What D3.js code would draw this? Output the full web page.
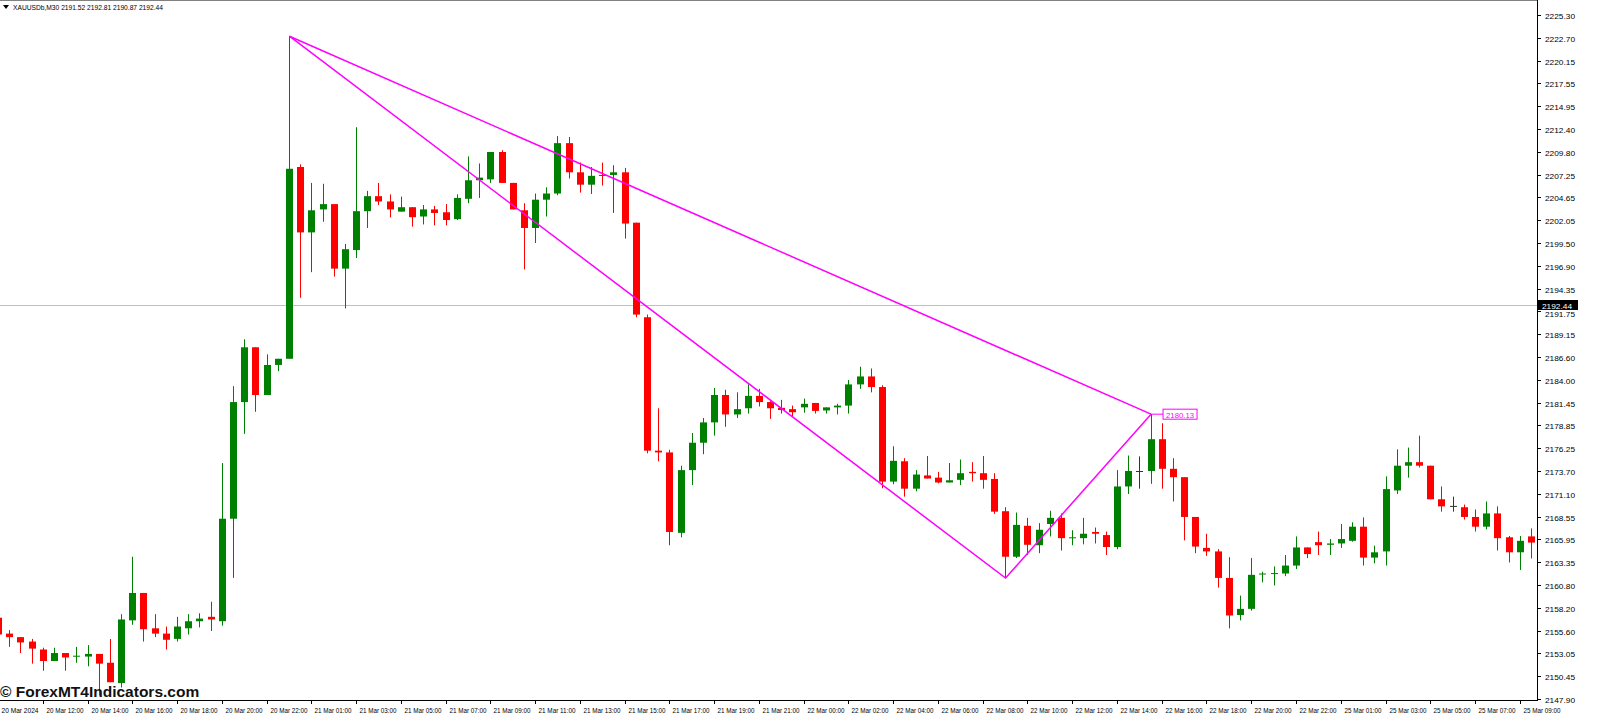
<!DOCTYPE html>
<html>
<head>
<meta charset="utf-8">
<script src="https://cdn.jsdelivr.net/npm/d3@7"></script>
<style>
  html, body { margin: 0; padding: 0; background: #fff; overflow: hidden; }
  svg { display: block; }
  text { font-family: "Liberation Sans", Arial, sans-serif; }
</style>
</head>
<body>
<svg id="chart"></svg>
<script>
// XAUUSDb M30 candles
const opens = [2157.1,2155.3,2154.9,2154.4,2153.5,2152.2,2153.1,2152.7,2152.7,2153.0,2152.0,2149.7,2156.8,2159.9,2155.9,2155.3,2154.7,2155.9,2156.7,2157.2,
  2156.7,2168.3,2181.5,2187.7,2182.3,2185.7,2186.4,2208.1,2200.7,2203.3,2203.9,2196.6,2198.7,2203.1,2204.8,2204.2,2203.05,2203.55,2202.5,2203.3,
  2202.98,2202.2,2204.5,2206.6,2206.7,2209.8,2206.3,2203.2,2201.2,2204.4,2205.1,2210.8,2207.5,2206.1,2207.2,2207.2,2207.5,2201.8,2191.1,2176.0,
  2175.8,2166.7,2173.8,2176.9,2179.2,2182.3,2180.1,2180.8,2182.2,2181.5,2180.85,2180.7,2180.9,2181.4,2180.55,2180.9,2181.1,2183.5,2184.4,2183.2,
  2172.5,2174.8,2171.7,2173.2,2172.95,2172.4,2172.7,2173.6,2173.45,2172.8,2169.15,2164.0,2167.5,2165.3,2167.7,2168.4,2166.1,2166.1,2166.8,2166.45,
  2165.1,2171.95,2173.7,2173.7,2177.3,2173.95,2173.0,2168.5,2165.0,2164.6,2161.6,2157.4,2158.1,2162.0,2162.05,2162.1,2163.0,2165.05,2165.65,2165.35,
  2165.5,2165.8,2167.4,2163.9,2164.6,2171.5,2174.3,2174.7,2174.3,2170.5,2169.75,2169.6,2168.5,2167.4,2168.9,2166.2,2164.5,2166.3];
const highs = [2157.6,2155.7,2154.9,2154.7,2153.7,2153.7,2153.1,2153.8,2154.0,2153.0,2154.7,2157.5,2164.0,2159.9,2157.5,2156.1,2157.2,2157.5,2157.6,2158.9,
  2174.6,2183.3,2188.6,2187.7,2186.9,2186.4,2222.9,2208.4,2206.3,2206.2,2203.9,2199.4,2212.6,2205.4,2206.3,2205.0,2204.75,2203.55,2203.8,2203.7,
  2203.9,2205.0,2209.3,2208.5,2209.8,2210.0,2206.3,2204.0,2205.1,2205.8,2211.6,2211.5,2208.6,2208.1,2208.6,2208.3,2208.0,2201.8,2191.4,2180.8,
  2176.1,2174.3,2178.0,2179.7,2183.1,2182.9,2182.6,2183.5,2183.0,2181.6,2181.75,2181.1,2181.9,2181.4,2180.9,2181.3,2184.0,2185.5,2185.3,2183.4,
  2176.5,2175.15,2173.8,2175.4,2173.6,2174.6,2175.0,2174.7,2175.4,2173.45,2169.6,2169.0,2168.4,2167.8,2169.2,2168.9,2167.0,2168.4,2167.3,2166.85,
  2173.8,2175.45,2175.35,2180.13,2179.1,2175.15,2173.0,2168.5,2166.6,2164.85,2163.95,2159.6,2163.85,2162.3,2162.9,2164.2,2166.3,2165.05,2166.85,2166.0,
  2167.7,2167.9,2168.45,2165.25,2173.1,2176.15,2176.35,2177.7,2174.3,2171.95,2170.8,2169.9,2169.35,2170.25,2169.7,2166.35,2166.35,2167.2];
const lows = [2155.0,2153.8,2153.1,2151.9,2151.1,2152.2,2151.1,2152.0,2151.6,2148.3,2149.8,2149.2,2156.3,2154.4,2154.9,2153.5,2154.4,2155.2,2156.0,2155.6,
  2156.2,2161.6,2177.9,2180.4,2182.3,2185.0,2186.4,2193.3,2196.2,2201.9,2195.7,2192.1,2197.8,2201.2,2203.8,2202.4,2203.05,2201.35,2201.6,2201.5,
  2201.5,2202.1,2204.0,2204.6,2206.3,2206.3,2203.3,2196.5,2199.5,2202.5,2204.9,2206.8,2205.2,2205.05,2206.0,2202.9,2200.0,2191.1,2175.7,2174.8,
  2165.3,2166.2,2172.1,2175.6,2177.7,2178.7,2179.7,2180.2,2181.0,2179.6,2180.2,2179.9,2180.3,2180.2,2180.2,2180.1,2180.2,2183.0,2182.6,2171.75,
  2172.2,2170.8,2171.4,2172.85,2172.3,2172.4,2172.1,2172.5,2171.7,2168.85,2161.58,2163.85,2164.2,2164.4,2166.3,2164.7,2165.3,2165.4,2165.5,2164.2,
  2164.85,2171.1,2171.7,2172.25,2171.7,2170.25,2165.85,2164.4,2164.1,2160.5,2155.9,2156.8,2157.9,2161.1,2160.75,2161.8,2162.6,2163.85,2164.2,2164.2,
  2165.0,2165.7,2163.0,2163.25,2163.0,2171.1,2172.95,2174.1,2170.5,2169.1,2169.1,2168.2,2166.85,2167.1,2164.7,2163.35,2162.5,2163.8];
const closes = [2155.2,2154.9,2154.3,2153.6,2152.2,2153.1,2152.6,2152.8,2153.0,2151.9,2149.8,2156.9,2159.9,2155.8,2155.3,2154.6,2156.1,2156.7,2157.0,2156.9,
  2168.3,2181.5,2187.7,2182.3,2185.7,2186.4,2207.9,2200.7,2203.2,2203.9,2196.6,2198.8,2203.1,2204.8,2204.2,2203.3,2203.55,2202.42,2203.3,2202.9,
  2202.1,2204.6,2206.6,2206.9,2209.8,2206.3,2203.3,2201.2,2204.4,2205.1,2210.8,2207.5,2206.1,2207.1,2207.1,2207.5,2201.7,2191.4,2176.0,2175.8,
  2166.8,2173.8,2176.9,2179.2,2182.3,2180.1,2180.7,2182.2,2181.5,2180.8,2180.6,2180.35,2181.3,2180.5,2180.9,2181.1,2183.5,2184.4,2183.2,2172.5,
  2174.85,2171.7,2173.3,2172.85,2172.4,2172.65,2173.45,2173.45,2172.7,2169.1,2164.0,2167.6,2165.35,2167.05,2168.4,2166.1,2166.2,2166.6,2166.6,2165.1,
  2171.95,2173.7,2173.7,2177.3,2173.95,2173.0,2168.5,2165.15,2164.6,2161.6,2157.35,2158.1,2161.95,2162.1,2162.15,2163.0,2165.05,2164.3,2165.3,2165.5,
  2166.0,2167.4,2163.9,2164.5,2171.65,2174.3,2174.7,2174.3,2170.5,2169.7,2169.75,2168.5,2167.4,2168.9,2166.1,2164.5,2165.8,2165.6];

const priceTicks = [2225.30,2222.70,2220.15,2217.55,2214.95,2212.40,2209.80,2207.25,2204.65,2202.05,2199.50,2196.90,2194.35,2191.75,2189.15,
  2186.60,2184.00,2181.45,2178.85,2176.25,2173.70,2171.10,2168.55,2165.95,2163.35,2160.80,2158.20,2155.60,2153.05,2150.45,2147.90];
// one time label every 4 bars, starting at bar 0
const timeLabels = ["20 Mar 2024","20 Mar 12:00","20 Mar 14:00","20 Mar 16:00","20 Mar 18:00","20 Mar 20:00","20 Mar 22:00",
  "21 Mar 01:00","21 Mar 03:00","21 Mar 05:00","21 Mar 07:00","21 Mar 09:00","21 Mar 11:00","21 Mar 13:00","21 Mar 15:00",
  "21 Mar 17:00","21 Mar 19:00","21 Mar 21:00","22 Mar 00:00","22 Mar 02:00","22 Mar 04:00","22 Mar 06:00","22 Mar 08:00",
  "22 Mar 10:00","22 Mar 12:00","22 Mar 14:00","22 Mar 16:00","22 Mar 18:00","22 Mar 20:00","22 Mar 22:00",
  "25 Mar 01:00","25 Mar 03:00","25 Mar 05:00","25 Mar 07:00","25 Mar 09:00"];
const bidPrice = 2192.44;
const header = "XAUUSDb,M30  2191.52 2192.81 2190.87 2192.44";
// zigzag pattern points: [bar index, price]
const pattern = [[26, 2222.9], [90, 2161.58], [103, 2180.13]];

const W = 1600, H = 724;
const plotRight = 1537, plotBottom = 700;

const svg = d3.select('#chart').attr('width', W).attr('height', H).attr('viewBox', `0 0 ${W} ${H}`);

const x = d3.scaleLinear().domain([0, opens.length - 1]).range([-2, 1531]);
const y = d3.scaleLinear().domain([2147.90, 2225.30]).range([699, 15]);

const candles = opens.map((o, i) => ({ i, o, h: highs[i], l: lows[i], c: closes[i] }));
const colorOf = d => d.c > d.o ? '#008000' : (d.c < d.o ? '#ff0000' : '#333');

const plot = svg.append('g');
plot.append('defs').append('clipPath').attr('id', 'clip')
  .append('rect').attr('x', 0).attr('y', 0).attr('width', plotRight).attr('height', plotBottom);
const g = plot.append('g').attr('clip-path', 'url(#clip)');

// bid line
g.append('line')
  .attr('x1', 0).attr('x2', plotRight)
  .attr('y1', Math.round(y(bidPrice)) + 0.5).attr('y2', Math.round(y(bidPrice)) + 0.5)
  .attr('stroke', '#c0c0c0').attr('stroke-width', 1);

// wicks
g.selectAll('.wick').data(candles).enter().append('line')
  .attr('class', 'wick')
  .attr('x1', d => Math.round(x(d.i)) + 0.5).attr('x2', d => Math.round(x(d.i)) + 0.5)
  .attr('y1', d => y(d.h)).attr('y2', d => y(d.l))
  .attr('stroke', colorOf).attr('stroke-width', 1);

// bodies
g.selectAll('.body').data(candles).enter().append('rect')
  .attr('class', 'body')
  .attr('x', d => Math.round(x(d.i)) - 3)
  .attr('y', d => y(Math.max(d.o, d.c)))
  .attr('width', 7)
  .attr('height', d => Math.max(1, y(Math.min(d.o, d.c)) - y(Math.max(d.o, d.c))))
  .attr('fill', colorOf);

// pattern lines
const pt = p => [x(p[0]) + 0.5, y(p[1])];
const lineGen = d3.line();
g.append('path')
  .attr('d', lineGen(pattern.map(pt)))
  .attr('fill', 'none').attr('stroke', '#ff00ff').attr('stroke-width', 1.5);
g.append('path')
  .attr('d', lineGen([pattern[0], pattern[2]].map(pt)))
  .attr('fill', 'none').attr('stroke', '#ff00ff').attr('stroke-width', 1.5);

// price label at last point
const [lx, ly] = pt(pattern[2]);
g.append('line').attr('x1', lx).attr('x2', lx + 12).attr('y1', ly).attr('y2', ly)
  .attr('stroke', '#ff00ff').attr('stroke-width', 1);
const lbl = g.append('g').attr('transform', `translate(${lx + 12},${ly})`);
lbl.append('rect').attr('x', 0).attr('y', -5).attr('width', 34).attr('height', 10)
  .attr('fill', '#fff').attr('stroke', '#ff00ff').attr('stroke-width', 1);
lbl.append('text').attr('x', 3).attr('y', 3.5).attr('font-size', 8).attr('fill', '#ff00ff')
  .attr('textLength', 28).attr('lengthAdjust', 'spacingAndGlyphs')
  .text(pattern[2][1].toFixed(2));

// frame
svg.append('line').attr('x1', 0).attr('x2', plotRight).attr('y1', 0.5).attr('y2', 0.5)
  .attr('stroke', '#808080');
svg.append('line').attr('x1', plotRight + 0.5).attr('x2', plotRight + 0.5).attr('y1', 0).attr('y2', plotBottom)
  .attr('stroke', '#000');
svg.append('line').attr('x1', 0).attr('x2', plotRight + 1).attr('y1', plotBottom + 0.5).attr('y2', plotBottom + 0.5)
  .attr('stroke', '#000');

// right price axis (skip the tick label hidden under the bid box)
const by = Math.round(y(bidPrice));
const ya = svg.append('g');
priceTicks.forEach(p => {
  const yy = Math.round(y(p)) + 0.5;
  ya.append('line').attr('x1', plotRight).attr('x2', plotRight + 4).attr('y1', yy).attr('y2', yy).attr('stroke', '#000');
  ya.append('text').attr('x', plotRight + 8).attr('y', Math.abs(yy - by) < 10 ? by + 12 : yy + 3)
    .attr('font-size', 8).attr('fill', '#000')
    .attr('textLength', 30).attr('lengthAdjust', 'spacingAndGlyphs')
    .text(p.toFixed(2));
});
ya.append('rect').attr('x', plotRight + 1).attr('y', by - 5).attr('width', 40).attr('height', 10).attr('fill', '#000');
ya.append('text').attr('x', plotRight + 5).attr('y', by + 3.5).attr('font-size', 8).attr('fill', '#fff')
  .attr('textLength', 30).attr('lengthAdjust', 'spacingAndGlyphs')
  .text(bidPrice.toFixed(2));

// bottom time axis
const xa = svg.append('g');
timeLabels.forEach((t, k) => {
  const xx = Math.round(x(k * 4)) + 0.5;
  xa.append('line').attr('x1', xx).attr('x2', xx).attr('y1', plotBottom).attr('y2', plotBottom + 4).attr('stroke', '#000');
  xa.append('text').attr('x', xx + 3).attr('y', plotBottom + 13).attr('font-size', 8).attr('fill', '#000')
    .attr('textLength', 37).attr('lengthAdjust', 'spacingAndGlyphs')
    .text(t);
});

// header
svg.append('path').attr('d', 'M3,5 L9,5 L6,9 Z').attr('fill', '#000');
svg.append('text').attr('x', 13).attr('y', 10).attr('font-size', 8).attr('fill', '#000')
  .attr('textLength', 150).attr('lengthAdjust', 'spacingAndGlyphs')
  .text(header);

// watermark
svg.append('text').attr('x', 0).attr('y', 697).attr('font-size', 15.5).attr('font-weight', 'bold')
  .attr('fill', '#111').attr('font-family', 'Arial, "Liberation Sans", sans-serif')
  .text('© ForexMT4Indicators.com');
</script>
</body>
</html>
